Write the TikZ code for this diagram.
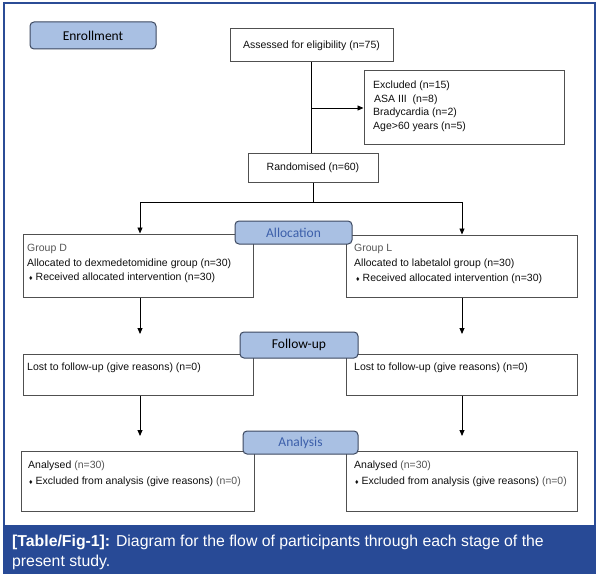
\documentclass[tikz,border=0pt]{standalone}
\usepackage{fontspec}
\setmainfont{Liberation Sans}
\newfontfamily\carlito{Carlito}
\usetikzlibrary{arrows.meta}
\definecolor{framecol}{RGB}{43,76,150}
\definecolor{capcol}{RGB}{40,74,150}
\definecolor{tabfill}{RGB}{169,192,227}
\definecolor{tabdraw}{RGB}{60,72,96}
\definecolor{tabtext}{RGB}{60,95,170}
\definecolor{boxdraw}{RGB}{80,80,80}
\definecolor{txtcol}{RGB}{15,15,15}
\definecolor{lightcol}{RGB}{85,85,85}
\begin{document}
\begin{tikzpicture}[x=1pt,y=-1pt,
  box/.style 2 args={draw=boxdraw,line width=1pt,fill=white,inner sep=0pt,
    minimum width=#1,minimum height=#2,text=txtcol,font=\fontsize{10.5}{12}\selectfont},
  tab/.style 2 args={draw=tabdraw,fill=tabfill,line width=1pt,rounded corners=4pt,inner sep=0pt,
    minimum width=#1,minimum height=#2,font=\carlito\fontsize{13.5}{15}\selectfont},
  txt/.style={anchor=base west,inner sep=0pt,text=txtcol,font=\fontsize{10.5}{12}\selectfont},
  conn/.style={draw=black,line width=0.9pt},
  arr/.style={conn,-{Triangle[length=6pt,width=5pt]}},
  capt/.style={anchor=base west,inner sep=0pt,text=white,font=\fontsize{15.8}{20}\selectfont}
]
\useasboundingbox (0,0) rectangle (598,578);
\fill[white] (0,0) rectangle (598,578);
% frame and caption band
\draw[framecol,line width=1.2pt] (4,3) rectangle (595,573);
\fill[capcol] (3,525) rectangle (595.6,573.6);
\node[capt] (cap1) at (12,546) {\textbf{[Table/Fig-1]:} Diagram for the flow of participants through each stage of the};
\node[capt] (cap2) at (12,566) {present study.};

% enrollment
\node[tab={126pt}{27pt}] (enroll) at (93,35.5) {Enrollment};
\node[box={163pt}{33pt}] (assess) at (311.5,45.5) {Assessed for eligibility (n=75)};
\node[box={200pt}{74pt}] (excl) at (464,108) {};
\node[txt] (ex1) at (373,88.5) {Excluded (n=15)};
\node[txt] (ex2) at (374,102.5) {ASA III\ \ (n=8)};
\node[txt] (ex3) at (373,115.5) {Bradycardia (n=2)};
\node[txt] (ex4) at (373,129.5) {Age>60 years (n=5)};
\node[box={130pt}{28pt}] (rand) at (313,168) {Randomised (n=60)};

\coordinate (exsplit) at (assess.south |- excl.west);
\draw[conn] (assess.south) -- (assess.south |- rand.north);
\draw[arr] (exsplit) -- (excl.west);

% allocation
\node[box={230pt}{63pt}] (gd) at (138,265.5) {};
\node[box={231pt}{62pt}] (gl) at (461.5,266) {};
\coordinate (split) at (rand.south |- 0,202);
\coordinate (cl) at (140,202);
\coordinate (cr) at (462,202);
\draw[conn] (rand.south) -- (split);
\draw[conn] (cl) -- (cr);
\draw[arr] (cl) -- (cl |- gd.north);
\draw[arr] (cr) -- (cr |- gl.north);
\node[txt,text=lightcol] (gd1) at (27,251.5) {Group D};
\node[txt] (gd2) at (27,266.5) {Allocated to dexmedetomidine group (n=30)};
\node[txt] (gd3) at (29,280.5) {{\fontsize{7}{7}\selectfont ♦}\ Received allocated intervention (n=30)};
\node[txt,text=lightcol] (gl1) at (354,251.5) {Group L};
\node[txt] (gl2) at (354,266.5) {Allocated to labetalol group (n=30)};
\node[txt] (gl3) at (356,281) {{\fontsize{7}{7}\selectfont ♦}\ Received allocated intervention (n=30)};
\node[tab={117pt}{23pt},text=tabtext] (alloc) at (293.5,232.5) {Allocation};

% follow-up
\coordinate (fl) at (140,334);
\coordinate (fr) at (462,334);
\draw[arr] (cl |- gd.south) -- (fl);
\draw[arr] (cr |- gl.south) -- (fr);
\node[box={230pt}{41pt}] (lostd) at (138,374.5) {};
\node[box={231pt}{41pt}] (lostl) at (461.5,374.5) {};
\node[txt] (ld1) at (27,370) {Lost to follow-up (give reasons) (n=0)};
\node[txt] (ll1) at (354,370) {Lost to follow-up (give reasons) (n=0)};
\node[tab={118pt}{26pt}] (follow) at (299,345) {Follow-up};

% analysis
\coordinate (al) at (140,436);
\coordinate (ar) at (462,436);
\draw[arr] (cl |- lostd.south) -- (al);
\draw[arr] (cr |- lostl.south) -- (ar);
\node[box={233pt}{60pt}] (and) at (137.5,481) {};
\node[box={231pt}{60pt}] (anl) at (461.5,481) {};
\node[txt] (ad1) at (28,468.5) {Analysed {\color{lightcol}(n=30)}};
\node[txt] (ad2) at (29,484.5) {{\fontsize{7}{7}\selectfont ♦}\ Excluded from analysis (give reasons) {\color{lightcol}(n=0)}};
\node[txt] (al1) at (354,468.5) {Analysed {\color{lightcol}(n=30)}};
\node[txt] (al2) at (355,484.5) {{\fontsize{7}{7}\selectfont ♦}\ Excluded from analysis (give reasons) {\color{lightcol}(n=0)}};
\node[tab={115pt}{23pt},text=tabtext] (analysis) at (300.5,442.5) {Analysis};
\end{tikzpicture}
\end{document}
